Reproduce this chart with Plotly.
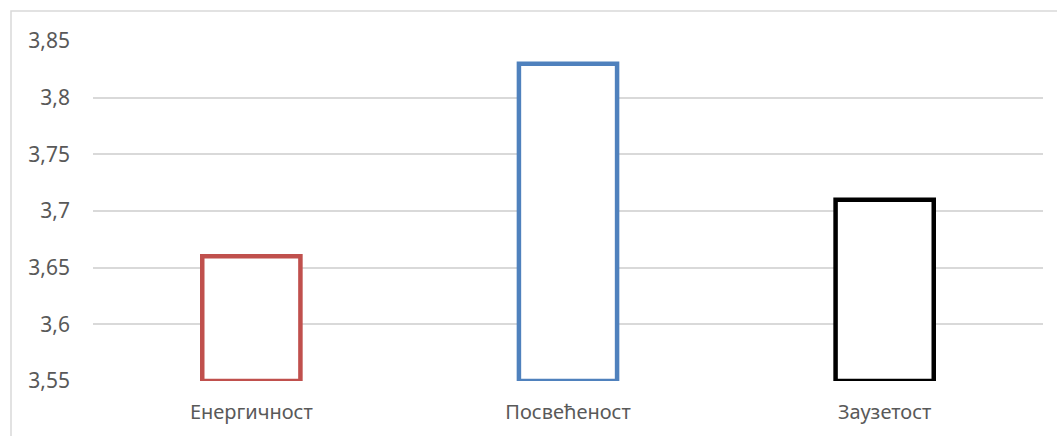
import plotly.graph_objects as go

categories = ["Енергичност", "Посвећеност", "Заузетост"]
values = [3.66, 3.83, 3.71]
colors = ["#C0504D", "#4F81BD", "#000000"]
y_ticks = [3.55, 3.6, 3.65, 3.7, 3.75, 3.8, 3.85]
y_tick_labels = ["3,55", "3,6", "3,65", "3,7", "3,75", "3,8", "3,85"]

BASE = 3.55

fig = go.Figure(
    go.Bar(
        x=categories,
        y=[v - BASE for v in values],
        base=BASE,
        marker=dict(color="white", line=dict(color=colors, width=4.5)),
        width=0.31,
        hoverinfo="x+text",
        text=[str(v).replace(".", ",") for v in values],
        textposition="none",
    )
)

fig.update_layout(
    width=1057,
    height=436,
    margin=dict(l=93, r=14, t=41, b=55),
    paper_bgcolor="white",
    plot_bgcolor="white",
    showlegend=False,
    font=dict(family="Noto Sans, sans-serif", size=17, color="#595959"),
    shapes=[
        dict(
            type="rect", xref="paper", yref="paper",
            x0=(11 - 93) / 950, x1=1.2, y0=-0.5, y1=1 + (41 - 11) / 340,
            line=dict(color="#D9D9D9", width=1.5), fillcolor="rgba(0,0,0,0)",
            layer="below",
        )
    ],
)

fig.update_yaxes(
    range=[3.55, 3.85],
    tickvals=y_ticks,
    ticktext=y_tick_labels,
    showgrid=True,
    gridcolor="#D9D9D9",
    gridwidth=1.6,
    zeroline=False,
    showline=False,
    ticks="",
    ticklabelstandoff=22,
    tickfont=dict(size=21),
    layer="below traces",
)
fig.update_xaxes(
    showgrid=False,
    showline=False,
    ticks="",
    ticklabelstandoff=17,
    tickfont=dict(size=20),
)

fig.write_html("out.html")
